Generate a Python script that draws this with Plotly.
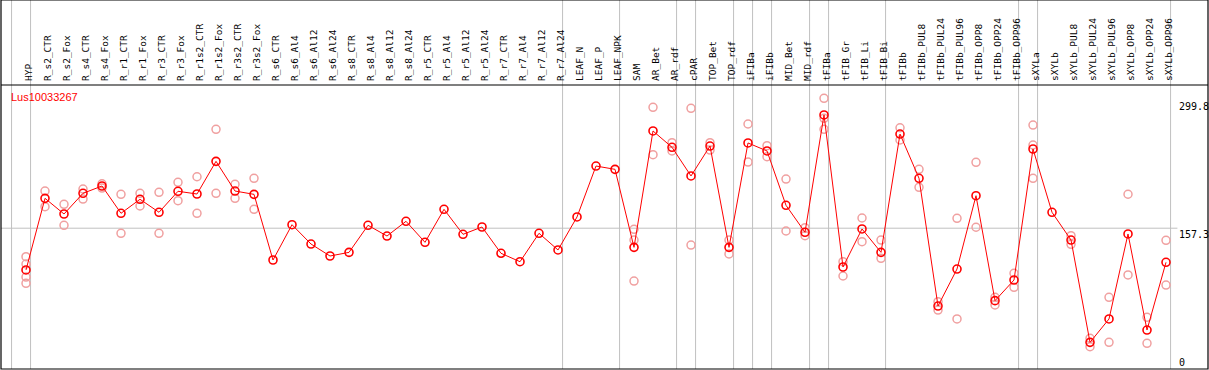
import plotly.graph_objects as go

categories = ["HYP", "R_s2_CTR", "R_s2_Fox", "R_s4_CTR", "R_s4_Fox", "R_r1_CTR", "R_r1_Fox",
              "R_r3_CTR", "R_r3_Fox", "R_r1s2_CTR", "R_r1s2_Fox", "R_r3s2_CTR", "R_r3s2_Fox",
              "R_s6_CTR", "R_s6_Al4", "R_s6_Al12", "R_s6_Al24", "R_s8_CTR", "R_s8_Al4",
              "R_s8_Al12", "R_s8_Al24", "R_r5_CTR", "R_r5_Al4", "R_r5_Al12", "R_r5_Al24",
              "R_r7_CTR", "R_r7_Al4", "R_r7_Al12", "R_r7_Al24", "LEAF_N", "LEAF_P", "LEAF_NPK",
              "SAM", "AR_Bet", "AR_rdf", "cPAR", "TOP_Bet", "TOP_rdf", "iFIBa", "iFIBb",
              "MID_Bet", "MID_rdf", "tFIBa", "tFIB_Gr", "tFIB_Li", "tFIB_Bi", "tFIBb",
              "tFIBb_PUL8", "tFIBb_PUL24", "tFIBb_PUL96", "tFIBb_OPP8", "tFIBb_OPP24",
              "tFIBb_OPP96", "sXYLa", "sXYLb", "sXYLb_PUL8", "sXYLb_PUL24", "sXYLb_PUL96",
              "sXYLb_OPP8", "sXYLb_OPP24", "sXYLb_OPP96"]

means = [108.2, 192.4, 174.0, 198.3, 206.9, 174.8, 191.3, 176.0, 200.7, 197.5, 235.9, 201.0,
         197.1, 119.9, 161.4, 138.7, 124.6, 128.9, 160.7, 148.1, 165.4, 140.7, 179.5, 150.1,
         158.7, 127.8, 117.9, 151.3, 131.7, 170.5, 230.4, 226.5, 134.8, 271.6, 252.4, 218.7,
         253.9, 134.8, 257.5, 248.1, 184.2, 152.5, 290.4, 111.7, 156.4, 128.9, 268.0, 216.0,
         65.8, 109.3, 195.5, 72.1, 96.4, 250.4, 176.0, 143.4, 23.1, 50.6, 150.5, 37.6, 117.2]

replicates = [
    [123.8, 115.2, 99.9, 92.5], [201.0, 182.6], [185.4, 160.7], [203.4, 191.6],
    [209.5, 204.5], [197.1, 151.3], [198.3, 183.4], [199.5, 151.3], [211.3, 189.6],
    [217.8, 174.8], [273.5, 198.3], [208.9, 192.4], [216.0, 179.5],
    [], [], [], [], [], [], [], [], [], [], [], [], [], [], [], [], [], [], [],
    [156.0, 143.4, 95.2], [299.4, 243.7], [257.8, 248.1], [298.2, 137.5], [257.8, 249.2],
    [143.4, 127.0], [279.8, 235.1], [254.3, 241.4], [215.1, 154.0], [157.9, 148.5],
    [310.0, 286.5, 273.6], [117.9, 101.1], [169.3, 141.4], [143.4, 121.9], [275.4, 261.0],
    [226.5, 205.4], [70.9, 61.1], [168.9, 50.6], [234.8, 158.4], [76.1, 67.0], [104.3, 87.8],
    [278.6, 255.1, 216.0], [], [148.5, 138.4], [27.8, 18.0], [76.1, 23.1], [197.2, 102.3],
    [52.5, 22.0], [143.1, 90.5]]

group_ends = [-1, 0, 28, 31, 34, 35, 37, 38, 39, 41, 42, 45, 52, 53, 60]
gene = "Lus10033267"
axis_labels = [(299.8, "299.8"), (157.3, "157.3"), (0, "0")]
ref_value = 157.3

W, H = 1209, 370
ML, MR, MT, MB = 1, 1, 85, 1
XR = [-1.316, 62.21]
YR = [-8.23, 325.65]
plot_h = H - MT - MB
top_paper = 1 + MT / plot_h

xs = list(range(len(categories)))
rx, ry = [], []
for i, reps in enumerate(replicates):
    for v in reps:
        rx.append(i)
        ry.append(v)

fig = go.Figure()
fig.add_trace(go.Scatter(
    x=rx, y=ry, mode="markers",
    marker=dict(symbol="circle-open", size=8, color="#f0a0a0", line=dict(width=1.5, color="#f0a0a0")),
    hoverinfo="skip", showlegend=False))
fig.add_trace(go.Scatter(
    x=xs, y=means, mode="lines+markers",
    line=dict(color="#ff0000", width=1),
    marker=dict(symbol="circle-open", size=8, color="#ff0000", line=dict(width=1.6, color="#ff0000")),
    showlegend=False))

shapes = []
for g in group_ends:
    shapes.append(dict(type="line", xref="x", yref="paper", x0=g + 0.24, x1=g + 0.24,
                       y0=0, y1=top_paper, line=dict(color="#c0c0c0", width=1), layer="below"))
shapes.append(dict(type="line", xref="x", yref="y", x0=XR[0], x1=60.6, y0=ref_value, y1=ref_value,
                   line=dict(color="#c0c0c0", width=1), layer="below"))
shapes.append(dict(type="rect", xref="paper", yref="paper", x0=0, x1=1, y0=0, y1=top_paper,
                   line=dict(color="black", width=1.2)))
shapes.append(dict(type="line", xref="paper", yref="paper", x0=0, x1=1, y0=1, y1=1,
                   line=dict(color="black", width=1.2)))

annotations = [dict(xref="paper", yref="y", x=(9 - ML) / (W - ML - MR), y=311.5, text=gene,
                    showarrow=False, xanchor="left", yanchor="middle",
                    font=dict(family="Liberation Sans, Arial", size=11, color="#ff0000"))]
lab_x = (1178 - ML) / (W - ML - MR)
for v, t in axis_labels:
    ya = "top" if v == ref_value else "middle"
    annotations.append(dict(xref="paper", yref="y", x=lab_x, y=v, text=t, showarrow=False,
                            xanchor="left", yanchor=ya, borderpad=0,
                            font=dict(family="DejaVu Sans Mono", size=10, color="black")))

fig.update_layout(
    width=W, height=H, margin=dict(l=ML, r=MR, t=MT, b=MB, pad=0),
    paper_bgcolor="white", plot_bgcolor="white",
    shapes=shapes, annotations=annotations,
    xaxis=dict(range=XR, side="top", tickmode="array", tickvals=xs, ticktext=categories,
               tickangle=-90, ticks="", showgrid=False, zeroline=False, showline=False,
               tickfont=dict(family="DejaVu Sans Mono", size=9.5, color="black"),
               ticklabelstandoff=3, ticklabelshift=3),
    yaxis=dict(range=YR, showticklabels=False, showgrid=False, zeroline=False, showline=False),
)
fig.write_html("out.html", config={"displayModeBar": False},
               post_script="document.body.style.margin='0px';document.body.style.overflow='hidden';")
